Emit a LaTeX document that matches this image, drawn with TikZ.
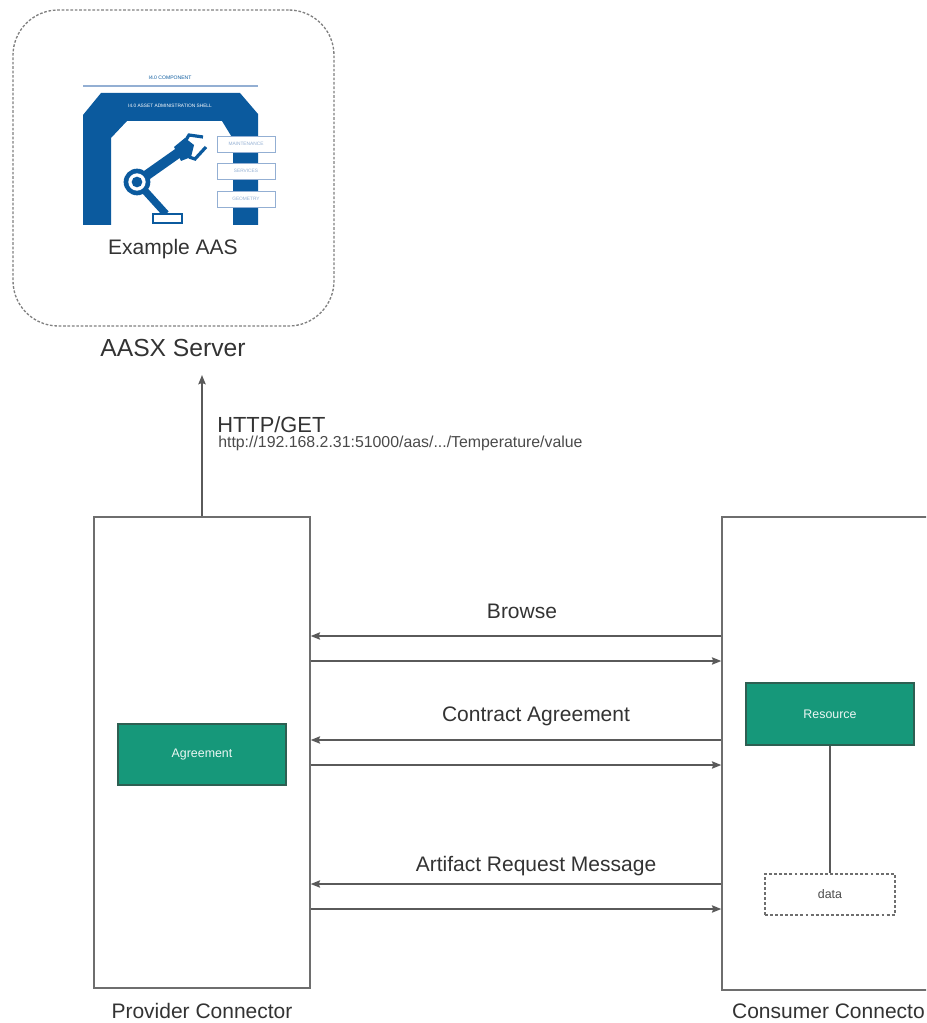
\documentclass[tikz,border=0pt]{standalone}
\usepackage{fontspec}
\setmainfont{Liberation Sans}
\usetikzlibrary{arrows.meta,fit}
\definecolor{txt}{HTML}{333333}
\definecolor{urltxt}{HTML}{4A4A4A}
\definecolor{boxgray}{HTML}{6E6E6E}
\definecolor{linegray}{HTML}{5A5A5A}
\definecolor{dashgray}{HTML}{808080}
\definecolor{resgreen}{HTML}{16987A}
\definecolor{resedge}{HTML}{2E5F52}
\definecolor{aasblue}{HTML}{0B5A9E}
\definecolor{aaslight}{HTML}{93AFD3}
\begin{document}
\begin{tikzpicture}[x=0.75pt,y=-0.75pt,
  box/.style={draw=boxgray, line width=1.1pt, inner sep=0pt},
  greenbox/.style={draw=resedge, fill=resgreen, line width=1pt, inner sep=0pt,
    minimum width=126pt, text=white!92!resgreen, font=\fontsize{9.3}{11}\selectfont},
  databox/.style={draw=boxgray, line width=0.9pt, dash pattern=on 2.2pt off 1.6pt,
    inner sep=0pt, minimum width=97.5pt, minimum height=30.75pt,
    text=urltxt, font=\fontsize{9.3}{11}\selectfont},
  serverbox/.style={draw=dashgray, line width=1pt, dash pattern=on 2pt off 1.3pt,
    rounded corners=34pt, inner sep=0pt},
  msg/.style={draw=linegray, line width=1.1pt, -{Stealth[length=7pt,width=5.5pt,inset=1pt]}},
  plainline/.style={draw=linegray, line width=1.1pt},
  lbl/.style={text=txt, font=\fontsize{15.75}{18}\selectfont, inner sep=0pt, anchor=base},
  shellbox/.style={draw=aaslight, fill=white, line width=0.7pt, inner sep=0pt,
    minimum width=43.5pt, minimum height=12pt,
    text=aaslight, font=\fontsize{3.6}{4}\selectfont},
]
\useasboundingbox (0,0) rectangle (926,1023);
\clip (0,0) rectangle (926,1023);

% ---------- AASX server with the asset administration shell ----------
\node[serverbox, fit={(13,10)(334,326)}] (server) {};
\node[lbl, font=\fontsize{18.5}{22}\selectfont] (serverlbl) at (173,356) {AASX Server};

% component header and rule
\node[text=aasblue, inner sep=0pt, font=\fontsize{3.8}{4}\selectfont] (comp) at (170,78) {I4.0 COMPONENT};
\draw[aaslight, line width=1pt] (83,86) -- (258,86);

% shell arch
\fill[aasblue, even odd rule]
  (83,225) -- (83,115) -- (101,93) -- (240,93) -- (258,114) -- (258,225) -- (233,225)
  -- (233,139) -- (222,121) -- (127,121) -- (111,138) -- (111,225) -- cycle;
\node[text=white, inner sep=0pt, font=\fontsize{3.6}{4}\selectfont] (shell) at (170,106) {I4.0 ASSET ADMINISTRATION SHELL};

% robot arm
\draw[aasblue, line width=5.5pt] (137,182) -- (166,214);
\draw[aasblue, line width=7.5pt] (137,182) -- (181,151);
\fill[aasblue] (174,147) -- (185,138) -- (194,145) -- (191,157) -- (181,161) -- cycle;
\draw[aasblue, line width=2.4pt] (186,140) -- (189,135) -- (203,137);
\draw[aasblue, line width=2.4pt] (189,157) -- (195,159) -- (206,147);
\fill[aasblue] (137,182) circle[radius=10pt];
\fill[white] (137,182) circle[radius=6.5pt];
\fill[aasblue] (137,182) circle[radius=4pt];
\draw[aasblue, fill=white, line width=1.6pt] (153,214) rectangle (182,223);

% submodel boxes
\node[shellbox] (maint) at (246,144) {MAINTENANCE};
\node[shellbox] (serv) at (246,171) {SERVICES};
\node[shellbox] (geom) at (246,199) {GEOMETRY};

\node[lbl] (example) at (173,255) {Example AAS};

% ---------- connectors ----------
\node[box, fit={(94,517)(310,988)}] (provider) {};
\node[box, fit={(722,517)(938,990)}] (consumer) {};
\node[lbl] (providerlbl) at (202,1018) {Provider Connector};
\node[lbl, anchor=base east] (consumerlbl) at (925,1018) {Consumer Connecto};

\node[greenbox, minimum height=45.75pt] (agreement) at (202,754.5) {Agreement};
\node[greenbox, minimum height=46.5pt] (resource) at (830,714) {Resource};
\node[databox] (data) at (830,894.5) {data};
\draw[plainline] (resource.south) -- (data.north);

% ---------- HTTP request to the server ----------
\draw[msg] (provider.north) -- (provider.north |- 0,375);
\node[lbl, anchor=base west, font=\fontsize{16.4}{19}\selectfont] (httpget) at (217,432) {HTTP/GET};
\node[lbl, anchor=base west, text=urltxt, font=\fontsize{11.9}{14}\selectfont] (url) at (218,447.5)
  {http://192.168.2.31:51000/aas/.../Temperature/value};

% ---------- message exchange ----------
\node[lbl] (browse) at (522,618) {Browse};
\draw[msg] (consumer.west |- 0,636) -- (provider.east |- 0,636);
\draw[msg] (provider.east |- 0,661) -- (consumer.west |- 0,661);

\node[lbl] (contract) at (536,721.5) {Contract Agreement};
\draw[msg] (consumer.west |- 0,740) -- (provider.east |- 0,740);
\draw[msg] (provider.east |- 0,765) -- (consumer.west |- 0,765);

\node[lbl] (artifact) at (536,871) {Artifact Request Message};
\draw[msg] (consumer.west |- 0,884) -- (provider.east |- 0,884);
\draw[msg] (provider.east |- 0,909) -- (consumer.west |- 0,909);
\end{tikzpicture}
\end{document}
